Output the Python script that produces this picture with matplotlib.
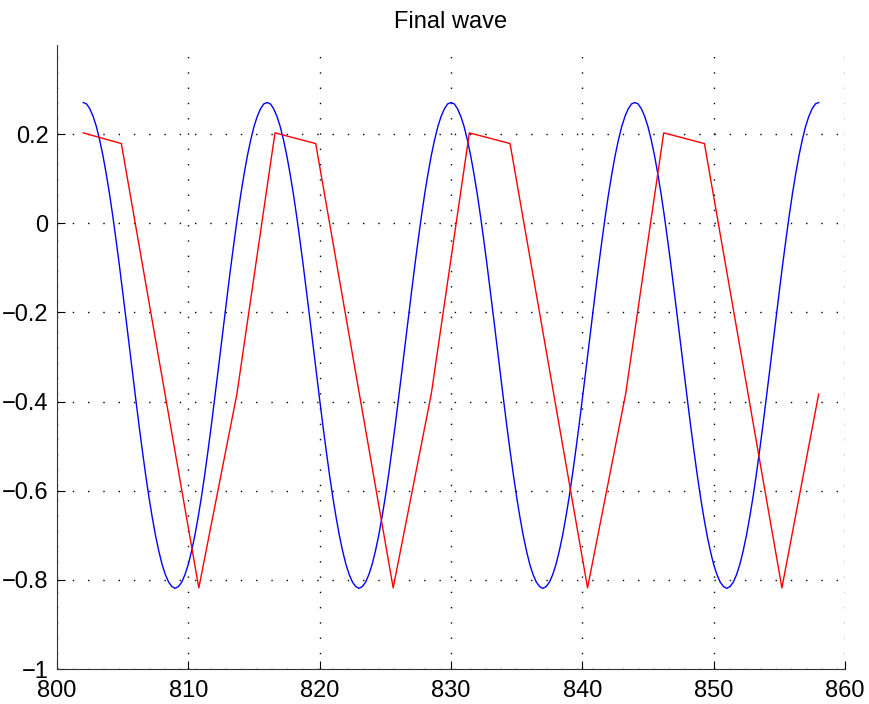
import numpy as np
import matplotlib.pyplot as plt

plt.rcParams['font.family'] = ['Liberation Sans', 'DejaVu Sans']

# blue wave, every 0.25 from 802 to 858
blue_x = np.arange(802, 858.001, 0.25)
blue_y = [
    # 802 - 816
    0.271, 0.268, 0.257, 0.240, 0.217, 0.187, 0.152, 0.111, 0.066, 0.016,
    -0.038, -0.094, -0.153, -0.213, -0.274, -0.335, -0.395, -0.454, -0.510, -0.564,
    -0.614, -0.659, -0.700, -0.735, -0.765, -0.788, -0.805, -0.815, -0.819, -0.815,
    -0.805, -0.788, -0.765, -0.735, -0.700, -0.659, -0.614, -0.564, -0.510, -0.454,
    -0.395, -0.335, -0.274, -0.213, -0.153, -0.094, -0.038, 0.016, 0.066, 0.111,
    0.152, 0.187, 0.217, 0.240, 0.257, 0.268,
    # 816 - 830
    0.271, 0.268, 0.257, 0.240, 0.217, 0.187, 0.152, 0.111, 0.066, 0.016,
    -0.038, -0.094, -0.153, -0.213, -0.274, -0.335, -0.395, -0.454, -0.510, -0.564,
    -0.614, -0.659, -0.700, -0.735, -0.765, -0.788, -0.805, -0.815, -0.819, -0.815,
    -0.805, -0.788, -0.765, -0.735, -0.700, -0.659, -0.614, -0.564, -0.510, -0.454,
    -0.395, -0.335, -0.274, -0.213, -0.153, -0.094, -0.038, 0.016, 0.066, 0.111,
    0.152, 0.187, 0.217, 0.240, 0.257, 0.268,
    # 830 - 844
    0.271, 0.268, 0.257, 0.240, 0.217, 0.187, 0.152, 0.111, 0.066, 0.016,
    -0.038, -0.094, -0.153, -0.213, -0.274, -0.335, -0.395, -0.454, -0.510, -0.564,
    -0.614, -0.659, -0.700, -0.735, -0.765, -0.788, -0.805, -0.815, -0.819, -0.815,
    -0.805, -0.788, -0.765, -0.735, -0.700, -0.659, -0.614, -0.564, -0.510, -0.454,
    -0.395, -0.335, -0.274, -0.213, -0.153, -0.094, -0.038, 0.016, 0.066, 0.111,
    0.152, 0.187, 0.217, 0.240, 0.257, 0.268,
    # 844 - 858
    0.271, 0.268, 0.257, 0.240, 0.217, 0.187, 0.152, 0.111, 0.066, 0.016,
    -0.038, -0.094, -0.153, -0.213, -0.274, -0.335, -0.395, -0.454, -0.510, -0.564,
    -0.614, -0.659, -0.700, -0.735, -0.765, -0.788, -0.805, -0.815, -0.819, -0.815,
    -0.805, -0.788, -0.765, -0.735, -0.700, -0.659, -0.614, -0.564, -0.510, -0.454,
    -0.395, -0.335, -0.274, -0.213, -0.153, -0.094, -0.038, 0.016, 0.066, 0.111,
    0.152, 0.187, 0.217, 0.240, 0.257, 0.268,
    0.271,
]

# red piecewise wave
red_x = [802.0, 804.9, 810.8, 813.7, 816.6, 819.7, 825.6, 828.5, 831.4,
         834.5, 840.4, 843.3, 846.2, 849.3, 855.2, 858.0]
red_y = [0.203, 0.179, -0.818, -0.383, 0.203, 0.179, -0.818, -0.383, 0.203,
         0.179, -0.818, -0.383, 0.203, 0.179, -0.818, -0.383]

xticks = [800, 810, 820, 830, 840, 850, 860]
yticks = [-1, -0.8, -0.6, -0.4, -0.2, 0, 0.2]
ytick_labels = ['\u22121', '\u22120.8', '\u22120.6', '\u22120.4', '\u22120.2', '0', '0.2']

fig = plt.figure(figsize=(8.7, 7.04), dpi=100)
ax = fig.add_axes([0.0655, 0.0497, 0.9057, 0.8863])

ax.plot(blue_x, blue_y, color='blue', lw=1.0)
ax.plot(red_x, red_y, color='red', lw=1.0)

ax.set_xlim(800, 860)
ax.set_ylim(-1, 0.4)
ax.set_xticks(xticks)
ax.set_yticks(yticks)
ax.set_yticklabels(ytick_labels)
ax.tick_params(direction='in', length=6, width=0.8, labelsize=17, pad=6)
ax.tick_params(axis='x', pad=8)

ax.grid(True, color='black', linestyle=(0, (1, 10)), linewidth=1.0)
for s in ['top', 'right']:
    ax.spines[s].set_visible(False)
for s in ['left', 'bottom']:
    ax.spines[s].set_color('#333333')

ax.set_title('Final wave', fontsize=17, pad=12)

fig.savefig('out.png', dpi=100)
